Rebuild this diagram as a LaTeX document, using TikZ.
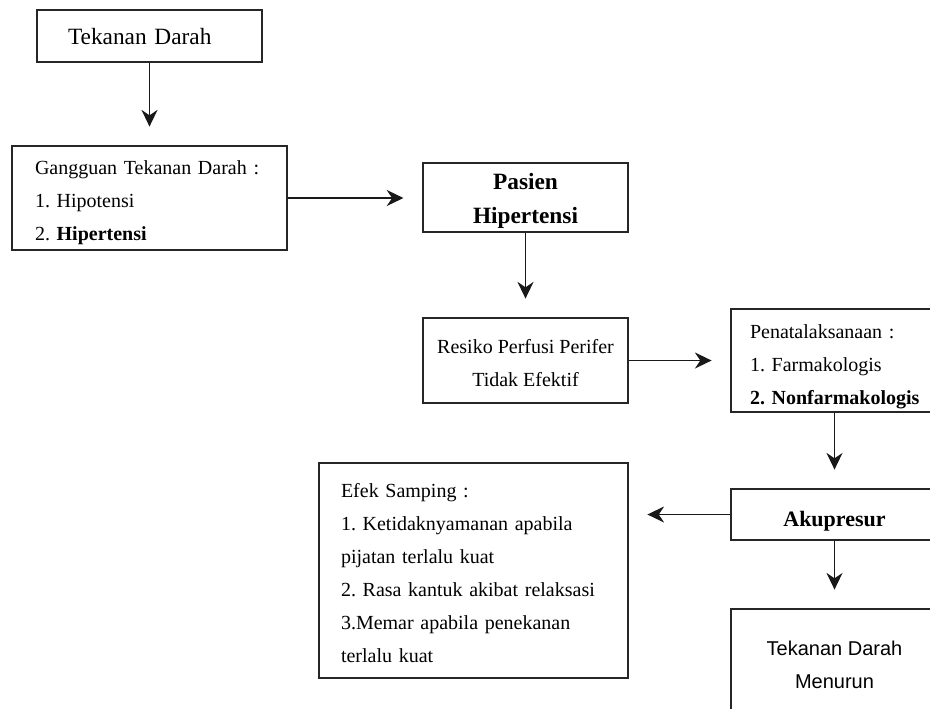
\documentclass[tikz,border=0pt]{standalone}
\usepackage{fontspec}
\setmainfont{Liberation Serif}
\newfontfamily\arialf{Liberation Sans}
\usetikzlibrary{arrows.meta}
\frenchspacing
\newcommand{\topstrut}[1]{\rule{0pt}{#1}}
\tikzset{
  box/.style={draw=black!85, line width=1.1pt, rectangle, inner ysep=0pt,
    font=\fontsize{15}{24.75}\selectfont},
  conn/.style={line width=1.1pt, draw=black!90,
    -{Stealth[length=12.5pt,width=12pt,inset=4pt]}, shorten >=14pt}
}
\begin{document}
\begin{tikzpicture}[x=0.75pt,y=-0.75pt]
\clip (0,0) rectangle (930,708);
\fill[white] (0,0) rectangle (930,708);

\node[box, minimum width=168.75pt, minimum height=39pt, inner xsep=23.25pt,
  text width=122.25pt, align=left, font=\fontsize{17.5}{20}\selectfont]
  (b1) at (149.5,36) {\topstrut{13pt}Tekanan Darah};

\node[box, minimum width=206.25pt, minimum height=78pt, inner xsep=17.25pt,
  text width=171.75pt, align=left]
  (b2) at (149.5,198) {\topstrut{17.8pt}Gangguan Tekanan Darah :\\1. Hipotensi\\2. \textbf{Hipertensi}};

\node[box, minimum width=154pt, minimum height=51.75pt, inner xsep=0pt,
  align=center, font=\fontsize{17.5}{25.5}\selectfont\bfseries]
  (b3) at (525.5,197.5) {\topstrut{17.9pt}Pasien\\Hipertensi};

\node[box, minimum width=154pt, minimum height=63.75pt, inner xsep=0pt,
  align=center]
  (b4) at (525.5,360.5) {\topstrut{14.8pt}Resiko Perfusi Perifer\\Tidak Efektif};

\node[box, minimum width=155.25pt, minimum height=77.25pt, inner xsep=14.25pt,
  text width=126.75pt, align=left]
  (b5) at (834.5,360.5) {\topstrut{20pt}Penatalaksanaan :\\1. Farmakologis\\\mbox{\textbf{2. Nonfarmakologis}}};

\node[box, minimum width=155.25pt, minimum height=38.25pt, inner xsep=0pt,
  align=center, font=\fontsize{16.5}{20}\selectfont\bfseries]
  (b6) at (834.5,514.5) {\topstrut{21.7pt}Akupresur};

\node[box, minimum width=231.75pt, minimum height=161.25pt, inner xsep=16.5pt,
  text width=198.75pt, align=left]
  (b7) at (473.5,570.5) {\topstrut{14.8pt}Efek Samping :\\1. Ketidaknyamanan apabila\\pijatan terlalu kuat\\2. Rasa kantuk akibat relaksasi\\3.Memar apabila penekanan\\terlalu kuat};

\node[box, minimum width=155.25pt, minimum height=81pt, inner xsep=0pt,
  align=center, font=\arialf\fontsize{15}{24.75}\selectfont]
  (b8) at (834.5,663) {\topstrut{13.7pt}Tekanan Darah\\Menurun};

\draw[conn] (b1.south) -- (b2.north);
\draw[conn] (b2.east) -- (b2.east -| b3.west);
\draw[conn] (b3.south) -- (b4.north);
\draw[conn] (b4.east) -- (b4.east -| b5.west);
\draw[conn] (b5.south) -- (b6.north);
\draw[conn] (b6.west) -- (b6.west -| b7.east);
\draw[conn] (b6.south) -- (b8.north);
\end{tikzpicture}
\end{document}
